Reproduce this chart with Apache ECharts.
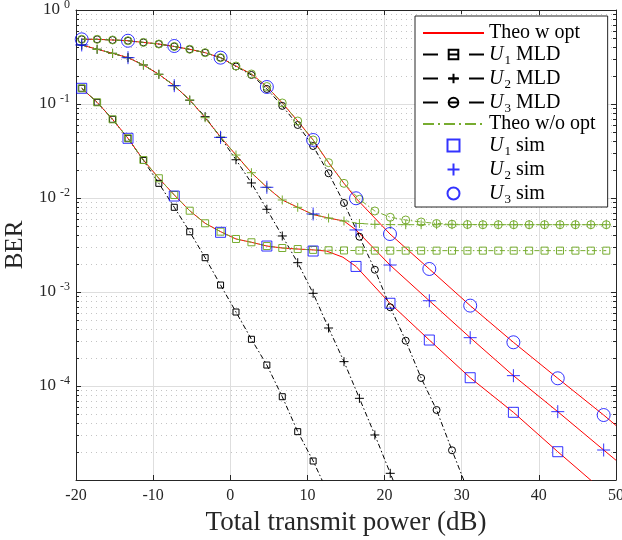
<!DOCTYPE html>
<html><head><meta charset="utf-8">
<script src="https://cdn.jsdelivr.net/npm/echarts@6/dist/echarts.min.js"></script>
<style>html,body{margin:0;padding:0;background:#fff}#c{width:622px;height:540px}</style>
</head><body><div id="c"></div>
<script>
// x positions (dB) of theory / MLD markers
const theoX = [-19.26,-17.26,-15.26,-13.26,-11.26,-9.26,-7.26,-5.26,-3.26,-1.26,0.74,2.74,4.74,6.74,8.74,10.74,12.74,14.74,16.74,18.74,20.74,22.74,24.74,26.74,28.74,30.74,32.74,34.74,36.74,38.74,40.74,42.74,44.74,46.74,48.74];
// log10(BER)
const woOptU1 = [-0.833,-0.982,-1.163,-1.365,-1.596,-1.790,-1.968,-2.135,-2.269,-2.358,-2.436,-2.471,-2.511,-2.532,-2.543,-2.552,-2.556,-2.558,-2.559,-2.560,-2.560,-2.560,-2.560,-2.560,-2.560,-2.560,-2.560,-2.560,-2.560,-2.560,-2.560,-2.560,-2.560,-2.560,-2.560];
const woOptU2 = [-0.372,-0.418,-0.461,-0.507,-0.585,-0.684,-0.805,-0.957,-1.146,-1.351,-1.543,-1.731,-1.886,-2.021,-2.099,-2.176,-2.213,-2.245,-2.271,-2.280,-2.283,-2.284,-2.284,-2.284,-2.284,-2.284,-2.284,-2.284,-2.284,-2.284,-2.284,-2.284,-2.284,-2.284,-2.284];
const woOptU3 = [-0.312,-0.312,-0.319,-0.327,-0.345,-0.362,-0.388,-0.418,-0.454,-0.507,-0.596,-0.681,-0.814,-0.989,-1.181,-1.383,-1.624,-1.844,-2.014,-2.138,-2.205,-2.234,-2.255,-2.271,-2.279,-2.282,-2.284,-2.284,-2.284,-2.284,-2.284,-2.284,-2.284,-2.284,-2.284];
const mldU1 = [-0.833,-0.982,-1.163,-1.365,-1.600,-1.844,-2.099,-2.359,-2.635,-2.926,-3.213,-3.503,-3.777,-4.114,-4.486,-4.798,-5.15];
const mldU2 = [-0.372,-0.418,-0.461,-0.507,-0.585,-0.684,-0.805,-0.960,-1.135,-1.356,-1.593,-1.840,-2.120,-2.404,-2.688,-3.014,-3.383,-3.741,-4.131,-4.521,-4.929,-5.33];
const mldU3 = [-0.312,-0.312,-0.319,-0.327,-0.345,-0.362,-0.388,-0.418,-0.454,-0.507,-0.601,-0.691,-0.840,-1.020,-1.223,-1.447,-1.737,-2.053,-2.412,-2.763,-3.163,-3.518,-3.915,-4.255,-4.684,-5.10];
// Theory with optimisation (red)
const optU1X = [-19.26,-17.26,-15.26,-13.26,-11.26,-9.26,-7.26,-5.26,-3.26,-1.26,0.74,2.74,4.74,6.74,8.74,10.74,12.5,14.6,16.3,20.7,25.8,31.1,36.7,42.45,48.4,50];
const optU1 = [-0.833,-0.982,-1.163,-1.365,-1.596,-1.790,-1.968,-2.135,-2.269,-2.358,-2.436,-2.471,-2.511,-2.532,-2.543,-2.552,-2.565,-2.630,-2.728,-3.120,-3.511,-3.912,-4.280,-4.699,-5.12,-5.24];
const optU2X = [-19.26,-17.26,-15.26,-13.26,-11.26,-9.26,-7.26,-5.26,-3.26,-1.26,0.74,2.74,4.74,6.74,8.74,10.74,12.74,14.74,16.3,20.7,25.8,31.1,36.7,42.45,48.4,50];
const optU2 = [-0.372,-0.418,-0.461,-0.507,-0.585,-0.684,-0.805,-0.957,-1.146,-1.351,-1.543,-1.731,-1.886,-2.021,-2.099,-2.176,-2.213,-2.245,-2.340,-2.713,-3.093,-3.486,-3.890,-4.273,-4.681,-4.79];
const optU3X = [-19.26,-17.26,-15.26,-13.26,-11.26,-9.26,-7.26,-5.26,-3.26,-1.26,0.74,2.74,4.74,6.74,8.74,10.74,12.74,14.74,16.3,20.7,25.8,31.1,36.7,42.45,48.4,50];
const optU3 = [-0.312,-0.312,-0.319,-0.327,-0.345,-0.362,-0.388,-0.418,-0.454,-0.507,-0.596,-0.681,-0.814,-0.989,-1.181,-1.383,-1.624,-1.844,-2.003,-2.383,-2.755,-3.145,-3.535,-3.918,-4.309,-4.42];
// Simulation points
const simX = [-19.26,-13.26,-7.26,-1.26,4.74,10.74,16.3,20.7,25.8,31.1,36.7,42.45,48.4];
const simU1 = [-0.833,-1.365,-1.979,-2.365,-2.511,-2.564,-2.728,-3.120,-3.511,-3.912,-4.280,-4.699,-5.12];
const simU2 = [-0.372,-0.507,-0.805,-1.355,-1.886,-2.170,-2.340,-2.713,-3.093,-3.486,-3.890,-4.273,-4.681];
const simU3 = [-0.312,-0.327,-0.383,-0.507,-0.819,-1.383,-2.003,-2.383,-2.755,-3.145,-3.535,-3.918,-4.309];
// axis decoration
const xTicks = [-20,-10,0,10,20,30,40,50];
const yDecades = [-5,-4,-3,-2,-1,0];
const minorMult = [2,3,4,5,6,7,8,9];

const pts = (xs, ls) => ls.map((l, i) => [xs[i], Math.pow(10, l)]);
const minorVals = [];
yDecades.slice(0, -1).forEach(e => minorMult.forEach(m => minorVals.push([-20, m * Math.pow(10, e)])));

const FONT = 'Liberation Serif';
const AX = '#262626';
const RED = '#FF0000', GREEN = '#77AC30', BLUE = '#0000FF', BLACK = '#000000';
const DASHDOT = [5, 2.5, 1.5, 2.5];
const PLUS = 'path://M0,5L10,5M5,0L5,10';
const SQUARE = 'path://M0,0L10,0L10,10L0,10Z';
const hollow = c => ({ color: 'rgba(0,0,0,0)', borderColor: c, borderWidth: 1 });

const chart = echarts.init(document.getElementById('c'), null, { renderer: 'canvas' });

function redLine(xs, ls) {
  return { name: 'Theo w opt', type: 'line', data: pts(xs, ls), symbol: 'none', z: 2,
    lineStyle: { color: RED, width: 1 }, itemStyle: { color: 'rgba(0,0,0,0)', borderWidth: 0 } };
}
function mldLine(name, ls, sym, size) {
  return { name, type: 'line', data: pts(theoX, ls), symbol: sym, symbolSize: size, showAllSymbol: true, z: 3,
    lineStyle: { color: BLACK, width: 1, type: DASHDOT }, itemStyle: hollow(BLACK) };
}
function greenLine(name, ls, sym, size) {
  return { name, type: 'line', data: pts(theoX, ls), symbol: sym, symbolSize: size, showAllSymbol: true, z: 4,
    lineStyle: { color: GREEN, width: 1, type: DASHDOT }, itemStyle: hollow(GREEN) };
}
function sim(name, ls, sym, size) {
  return { name, type: 'scatter', data: pts(simX, ls), symbol: sym, symbolSize: size, symbolKeepAspect: true, z: 5,
    itemStyle: hollow(BLUE) };
}

const legendText = {
  'Theo w opt': 'Theo w opt',
  'U1 MLD': '{it|U}{sub|1} MLD',
  'U2 MLD': '{it|U}{sub|2} MLD',
  'U3 MLD': '{it|U}{sub|3} MLD',
  'Theo w/o opt': 'Theo w/o opt',
  'U1 sim': '{it|U}{sub|1} sim',
  'U2 sim': '{it|U}{sub|2} sim',
  'U3 sim': '{it|U}{sub|3} sim'
};
const MLD_ICON_DASH = [15, 10, 11, 10, 15, 100];
const WO_ICON_DASH = [11, 4, 2, 4];
const legendData = Object.keys(legendText).map(n => {
  if (n.indexOf('MLD') > -1) return { name: n, lineStyle: { type: MLD_ICON_DASH } };
  if (n === 'Theo w/o opt') return { name: n, lineStyle: { type: WO_ICON_DASH } };
  return { name: n };
});

const option = {
  animation: false,
  backgroundColor: '#fff',
  grid: { left: 76, top: 10, right: 6, bottom: 60, containLabel: false, outerBoundsMode: 'none' },
  legend: {
    orient: 'vertical', left: 415, top: 16, selectedMode: false,
    data: legendData,
    itemWidth: 61, itemHeight: 12, itemGap: -1,
    padding: [7, 12, 1, 7],
    backgroundColor: '#fff', borderColor: AX, borderWidth: 1,
    formatter: n => legendText[n],
    textStyle: { fontFamily: FONT, fontSize: 20, color: '#000', lineHeight: 20,
      rich: {
        it: { fontFamily: FONT, fontSize: 20, fontStyle: 'italic', lineHeight: 20, color: '#000' },
        sub: { fontFamily: FONT, fontSize: 13, lineHeight: 8, padding: [12, 0, 0, 1], color: '#000' }
      } }
  },
  xAxis: [{
    type: 'value', min: -20, max: 50, interval: 10, position: 'bottom',
    axisLine: { onZero: false, lineStyle: { color: AX, width: 1 } },
    axisTick: { inside: true, length: 5, lineStyle: { color: AX } },
    axisLabel: { fontFamily: FONT, fontSize: 16, color: AX, margin: 8 },
    splitLine: { show: true, lineStyle: { color: '#dedede', width: 1 } },
    name: 'Total transmit power (dB)', nameLocation: 'middle', nameGap: 29,
    nameTextStyle: { fontFamily: FONT, fontSize: 27, color: AX }
  }, {
    type: 'value', min: -20, max: 50, interval: 10, position: 'top',
    axisLine: { onZero: false, lineStyle: { color: AX, width: 1 } },
    axisTick: { inside: true, length: 5, lineStyle: { color: AX } },
    axisLabel: { show: false }, splitLine: { show: false }
  }],
  yAxis: [{
    type: 'log', logBase: 10, min: 1e-5, max: 1, position: 'left',
    axisLine: { show: true, onZero: false, lineStyle: { color: AX, width: 1 } },
    axisTick: { show: true, inside: true, length: 5, lineStyle: { color: AX } },
    axisLabel: {
      showMinLabel: false, margin: 6,
      formatter: v => '{b|10}{s|' + Math.round(Math.log10(v)) + '}',
      rich: {
        b: { fontFamily: FONT, fontSize: 17, color: AX, lineHeight: 17 },
        s: { fontFamily: FONT, fontSize: 12, color: AX, lineHeight: 12, padding: [0, 0, 10, 4] }
      }
    },
    splitLine: { show: true, lineStyle: { color: '#dedede', width: 1 } },
    name: 'BER', nameLocation: 'middle', nameGap: 46, nameRotate: 90,
    nameTextStyle: { fontFamily: FONT, fontSize: 25, color: AX }
  }, {
    type: 'log', logBase: 10, min: 1e-5, max: 1, position: 'right',
    axisLine: { show: true, onZero: false, lineStyle: { color: AX, width: 1 } },
    axisTick: { show: true, inside: true, length: 5, lineStyle: { color: AX } },
    axisLabel: { show: false }, splitLine: { show: false }
  }],
  series: [
    {
      type: 'custom', name: 'minor', silent: true, z: 1, clip: false,
      data: minorVals,
      renderItem: (params, api) => {
        const p = api.coord([api.value(0), api.value(1)]);
        const cs = params.coordSys;
        const y = Math.round(p[1]) + 0.5;
        return { type: 'group', children: [
          { type: 'line', shape: { x1: cs.x, y1: y, x2: cs.x + cs.width, y2: y }, style: { stroke: '#c4c4c4', lineWidth: 1, lineDash: [1, 4] } },
          { type: 'line', shape: { x1: cs.x, y1: y, x2: cs.x + 3, y2: y }, style: { stroke: AX, lineWidth: 1 } },
          { type: 'line', shape: { x1: cs.x + cs.width - 3, y1: y, x2: cs.x + cs.width, y2: y }, style: { stroke: AX, lineWidth: 1 } }
        ] };
      }
    },
    redLine(optU1X, optU1),
    redLine(optU2X, optU2),
    redLine(optU3X, optU3),
    mldLine('U1 MLD', mldU1, 'rect', 6),
    mldLine('U2 MLD', mldU2, PLUS, 9),
    mldLine('U3 MLD', mldU3, 'circle', 7),
    { name: 'Theo w/o opt', type: 'line', data: [], symbol: 'none',
      lineStyle: { color: GREEN, width: 1, type: DASHDOT }, itemStyle: { color: 'rgba(0,0,0,0)', borderWidth: 0 } },
    greenLine('gU1', woOptU1, 'rect', 7),
    greenLine('gU2', woOptU2, PLUS, 9),
    greenLine('gU3', woOptU3, 'circle', 8),
    sim('U1 sim', simU1, SQUARE, 10),
    sim('U2 sim', simU2, PLUS, 13),
    sim('U3 sim', simU3, 'circle', 13)
  ]
};
chart.setOption(option);
</script>
</body></html>
